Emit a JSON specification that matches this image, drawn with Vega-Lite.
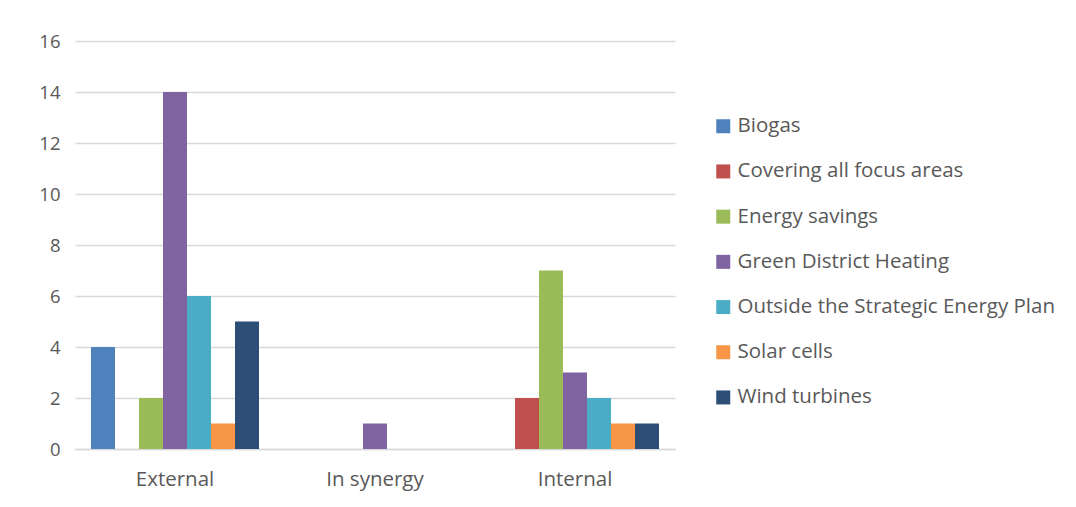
{
  "$schema": "https://vega.github.io/schema/vega-lite/v6.json",
  "width": 600,
  "height": 408,
  "autosize": {"type": "none"},
  "padding": {"left": 75, "top": 41, "right": 401, "bottom": 58},
  "background": "white",
  "config": {
    "view": {"stroke": null},
    "font": "Open Sans",
    "axis": {"labelColor": "#595959", "labelFontSize": 18, "titleColor": "#595959"}
  },
  "data": {
    "values": [
      {"category": "External", "series": "Biogas", "value": 4},
      {"category": "External", "series": "Energy savings", "value": 2},
      {"category": "External", "series": "Green District Heating", "value": 14},
      {"category": "External", "series": "Outside the Strategic Energy Plan", "value": 6},
      {"category": "External", "series": "Solar cells", "value": 1},
      {"category": "External", "series": "Wind turbines", "value": 5},
      {"category": "In synergy", "series": "Green District Heating", "value": 1},
      {"category": "Internal", "series": "Covering all focus areas", "value": 2},
      {"category": "Internal", "series": "Energy savings", "value": 7},
      {"category": "Internal", "series": "Green District Heating", "value": 3},
      {"category": "Internal", "series": "Outside the Strategic Energy Plan", "value": 2},
      {"category": "Internal", "series": "Solar cells", "value": 1},
      {"category": "Internal", "series": "Wind turbines", "value": 1}
    ]
  },
  "mark": {"type": "bar"},
  "encoding": {
    "x": {
      "field": "category",
      "type": "nominal",
      "sort": ["External", "In synergy", "Internal"],
      "scale": {"paddingInner": 0.16, "paddingOuter": 0.08},
      "axis": {
        "title": null,
        "labelAngle": 0,
        "ticks": false,
        "domainColor": "#d9d9d9",
        "domainWidth": 1.5,
        "labelPadding": 20,
        "labelFontSize": 20.5
      }
    },
    "xOffset": {
      "field": "series",
      "type": "nominal",
      "scale": {"paddingInner": 0, "paddingOuter": 0}
    },
    "y": {
      "field": "value",
      "type": "quantitative",
      "scale": {"domain": [0, 16], "nice": false},
      "axis": {
        "title": null,
        "values": [0, 2, 4, 6, 8, 10, 12, 14, 16],
        "domain": false,
        "ticks": false,
        "gridColor": "#d9d9d9",
        "gridWidth": 1.5,
        "labelPadding": 15,
        "labelFontSize": 18.5
      }
    },
    "color": {
      "field": "series",
      "type": "nominal",
      "scale": {
        "domain": ["Biogas", "Covering all focus areas", "Energy savings", "Green District Heating", "Outside the Strategic Energy Plan", "Solar cells", "Wind turbines"],
        "range": ["#4F81BD", "#C0504D", "#9BBB59", "#8064A2", "#4BACC6", "#F79646", "#2C4D75"]
      },
      "legend": {
        "title": null,
        "orient": "none",
        "legendX": 638,
        "legendY": 75,
        "symbolType": "square",
        "symbolSize": 196,
        "symbolStrokeWidth": 0,
        "labelFontSize": 20.5,
        "labelColor": "#595959",
        "labelLimit": 400,
        "labelOffset": 4,
        "rowPadding": 24.2
      }
    }
  }
}
